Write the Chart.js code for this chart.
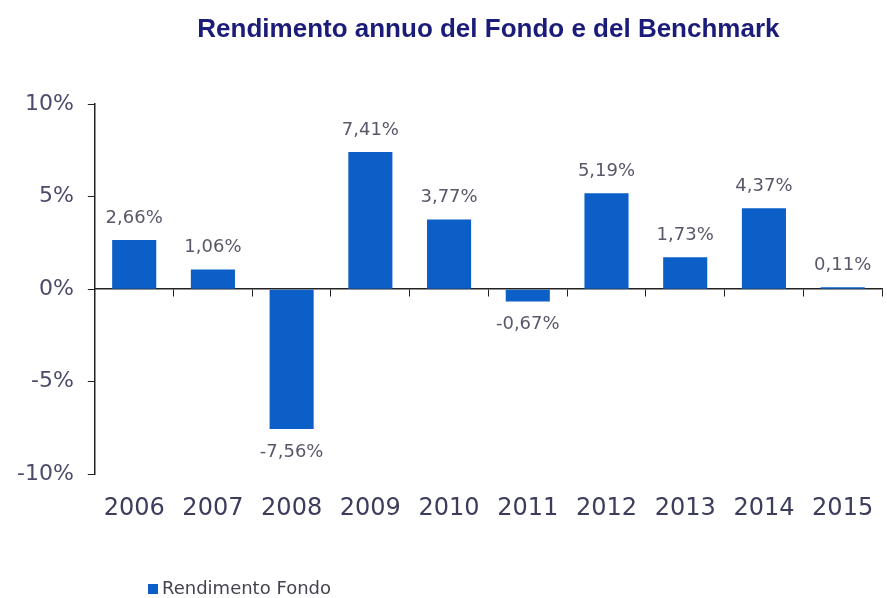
<!DOCTYPE html>
<html>
<head>
<meta charset="utf-8">
<script src="https://cdn.jsdelivr.net/npm/chart.js@4/dist/chart.umd.min.js"></script>
<style>
  body { margin: 0; background: #fff; }
  #wrap { width: 887px; height: 598px; }
</style>
</head>
<body>
<div id="wrap"><canvas id="myChart" width="887" height="598"></canvas></div>
<script>
const years = ['2006','2007','2008','2009','2010','2011','2012','2013','2014','2015'];
const rendimentoFondo = [2.66, 1.06, -7.56, 7.41, 3.77, -0.67, 5.19, 1.73, 4.37, 0.11];
const yTicks = [-10, -5, 0, 5, 10];

const barColor = '#0b5fc7';
const bodyFont = '"DejaVu Sans", Verdana, sans-serif';

// value labels above / below each bar
const valueLabels = {
  id: 'valueLabels',
  afterDatasetsDraw(chart) {
    const c = chart.ctx;
    const meta = chart.getDatasetMeta(0);
    c.save();
    c.font = '18px ' + bodyFont;
    c.fillStyle = '#58586a';
    c.textAlign = 'center';
    meta.data.forEach((bar, i) => {
      const v = rendimentoFondo[i];
      const txt = v.toFixed(2).replace('.', ',') + '%';
      if (v >= 0) {
        c.textBaseline = 'bottom';
        c.fillText(txt, bar.x, bar.y - 13);
      } else {
        c.textBaseline = 'top';
        c.fillText(txt, bar.x, bar.y + 14);
      }
    });
    c.restore();
  }
};

// simple legend bottom left
const bottomLegend = {
  id: 'bottomLegend',
  afterDraw(chart) {
    const c = chart.ctx;
    const y = 589;
    c.save();
    c.fillStyle = barColor;
    c.fillRect(148, y - 5, 10, 10);
    c.font = '18px ' + bodyFont;
    c.fillStyle = '#444450';
    c.textBaseline = 'middle';
    c.textAlign = 'left';
    c.fillText('Rendimento Fondo', 162, y);
    c.restore();
  }
};

const ctx = document.getElementById('myChart').getContext('2d');
const config = {
  type: 'bar',
  data: {
    labels: years,
    datasets: [{
      label: 'Rendimento Fondo',
      data: rendimentoFondo,
      backgroundColor: barColor,
      barPercentage: 0.56,
      categoryPercentage: 1.0
    }]
  },
  options: {
    responsive: false,
    animation: false,
    layout: { padding: { left: 3, right: 5, top: 0, bottom: 63 } },
    plugins: {
      legend: { display: false },
      tooltip: { enabled: false },
      title: {
        display: true,
        fullSize: false,
        text: 'Rendimento annuo del Fondo e del Benchmark',
        color: '#1b1b7a',
        font: { size: 26, weight: 'bold', family: '"Liberation Sans", Arial, sans-serif' },
        padding: { top: 14, bottom: 59 }
      }
    },
    scales: {
      x: {
        position: 'bottom',
        grid: { display: false },
        border: { display: false },
        ticks: {
          color: '#3c3c5c',
          padding: 12,
          font: { size: 24, family: bodyFont }
        }
      },
      x2: {
        type: 'category',
        position: { y: 0 },
        labels: years,
        offset: true,
        grid: { drawOnChartArea: false, drawTicks: true, tickLength: 7, color: '#222', offset: true },
        border: { display: true, color: '#222', width: 1.5 },
        ticks: { display: false }
      },
      y: {
        min: -10,
        max: 10,
        afterBuildTicks: (axis) => { axis.ticks = yTicks.map(v => ({ value: v })); },
        grid: { drawOnChartArea: false, drawTicks: true, tickLength: 7, color: '#222' },
        border: { display: true, color: '#222', width: 1.5 },
        ticks: {
          color: '#4b4b6b',
          padding: 14,
          font: { size: 22, family: bodyFont },
          callback: (v) => v + '%'
        }
      }
    }
  },
  plugins: [valueLabels, bottomLegend]
};
const myChart = new Chart(ctx, config);
</script>
</body>
</html>
